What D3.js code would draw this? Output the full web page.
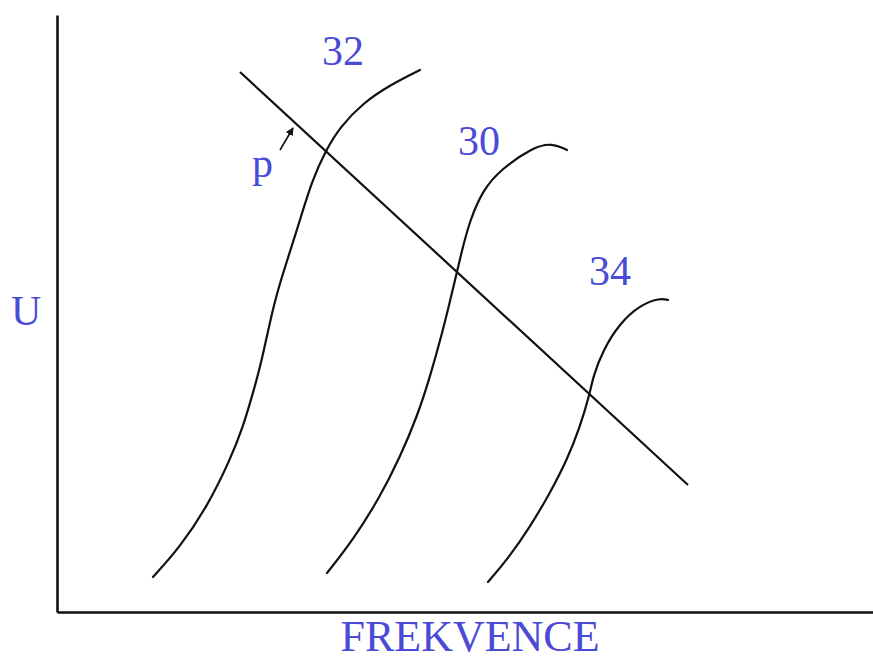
<!DOCTYPE html>
<html>
<head>
<meta charset="utf-8">
<script src="https://cdn.jsdelivr.net/npm/d3@7/dist/d3.min.js"></script>
<style>
  html, body { margin: 0; padding: 0; background: #fff; }
  svg { display: block; }
</style>
</head>
<body>
<svg id="chart" width="873" height="661"></svg>
<script>
// Resonance curves U(f) for three settings, plus the load line p.
const curveLabels = ["32", "30", "34"];
const curve32 = [[96,35],[123,65],[150,105],[173,152],[186,185],[196,219],[205,252],[216,305],[226,339],[240,382],[255,432],[269,462],[283,485],[306,509],[333,527],[363,542]];
const curve30 = [[270,39],[296,72],[323,115],[343,155],[360,195],[373,235],[386,282],[395,319],[405,362],[413,392],[426,422],[443,442],[476,465],[495,469],[510,462]];
const curve34 = [[431,30],[450,52],[473,85],[493,119],[510,152],[523,185],[533,219],[536,235],[546,262],[563,289],[583,307],[603,314],[611,312]];
const loadLine = [[183,540],[631,127]];
const pArrow = [[223,462],[236,484]];
const labelPos32 = [265,547], labelPos30 = [401,457], labelPos34 = [532,327];
const axisTitleX = "FREKVENCE", axisTitleY = "U", lineLabel = "p";

const svg = d3.select("#chart");
const blue = "#4a4ad6";

// Data space: horizontal = frequency, vertical = U, both in arbitrary units.
const x = d3.scaleLinear().domain([0, 816]).range([57, 873]);
const y = d3.scaleLinear().domain([0, 597]).range([612, 15]);

// Axes without ticks (only the domain lines).
svg.append("g").attr("transform", `translate(0,${y(0)})`)
  .call(d3.axisBottom(x).ticks(0).tickSizeOuter(0))
  .select(".domain").attr("stroke", "#111").attr("stroke-width", 2.6);
svg.append("g").attr("transform", `translate(${x(0)},0)`)
  .call(d3.axisLeft(y).ticks(0).tickSizeOuter(0))
  .select(".domain").attr("stroke", "#111").attr("stroke-width", 2.6);

// B-spline through the measured points keeps the hand-drawn curves smooth.
const line = d3.line().x(d => x(d[0])).y(d => y(d[1])).curve(d3.curveBasis);
[curve32, curve30, curve34].forEach(c => {
  svg.append("path").attr("d", line(c))
    .attr("fill", "none").attr("stroke", "#111").attr("stroke-width", 2.2)
    .attr("stroke-linecap", "round");
});

const straight = d3.line().x(d => x(d[0])).y(d => y(d[1]));
svg.append("path").attr("d", straight(loadLine))
  .attr("fill", "none").attr("stroke", "#111").attr("stroke-width", 2.2);

// Small pointer arrow towards the load line.
svg.append("defs").append("marker")
  .attr("id", "head").attr("viewBox", "0 0 10 10").attr("refX", 9).attr("refY", 5)
  .attr("markerWidth", 5).attr("markerHeight", 5).attr("orient", "auto")
  .append("path").attr("d", "M0,0 L10,5 L0,10 Z").attr("fill", "#111");
svg.append("path").attr("d", straight(pArrow))
  .attr("fill", "none").attr("stroke", "#111").attr("stroke-width", 1.6)
  .attr("marker-end", "url(#head)");

const txt = (s, p, size, anchor = "start") => svg.append("text")
  .attr("x", x(p[0])).attr("y", y(p[1]))
  .attr("font-family", "'Liberation Serif', 'Times New Roman', serif")
  .attr("font-size", size).attr("fill", blue).attr("text-anchor", anchor).text(s);

txt(curveLabels[0], labelPos32, 42);
txt(curveLabels[1], labelPos30, 42);
txt(curveLabels[2], labelPos34, 42);
txt(lineLabel, [195, 435], 42);
txt(axisTitleY, [-46, 287], 42);
txt(axisTitleX, [413, -39], 44, "middle");
</script>
</body>
</html>
